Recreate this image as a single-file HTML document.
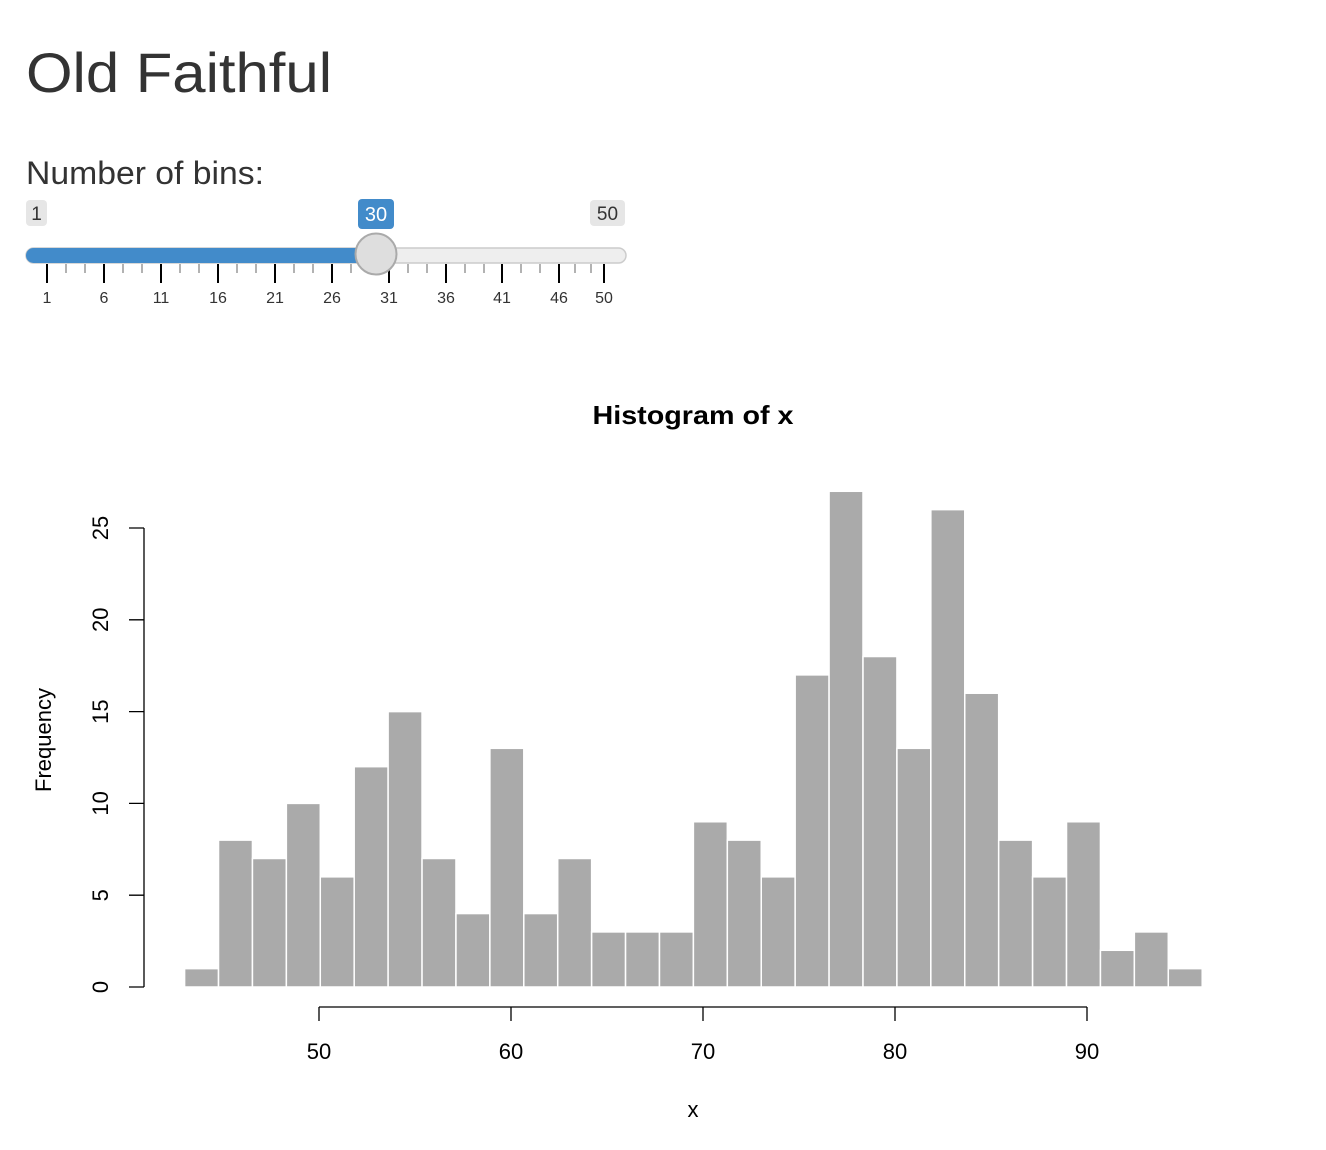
<!DOCTYPE html>
<html><head><meta charset="utf-8"><style>
html,body{margin:0;padding:0;background:#fff;}
svg{display:block;}
</style></head><body>
<svg width="1326" height="1150" viewBox="0 0 1326 1150" xmlns="http://www.w3.org/2000/svg" font-family="Liberation Sans, Arial, sans-serif">
<text x="26" y="92" font-size="56" fill="#333" textLength="306" lengthAdjust="spacingAndGlyphs">Old Faithful</text>
<text x="26" y="184" font-size="32" fill="#333" textLength="238" lengthAdjust="spacingAndGlyphs">Number of bins:</text>
<rect x="26" y="200" width="21" height="26" rx="4" fill="#e6e6e6"/>
<text x="36.5" y="220" font-size="19" fill="#333" text-anchor="middle">1</text>
<rect x="590" y="200" width="35" height="26" rx="4" fill="#e6e6e6"/>
<text x="607.5" y="220" font-size="19" fill="#333" text-anchor="middle">50</text>
<rect x="358" y="199" width="36" height="30" rx="4" fill="#428bca"/>
<text x="376" y="221" font-size="20" fill="#fff" text-anchor="middle">30</text>
<rect x="26" y="248" width="600" height="15" rx="7.5" fill="#eee" stroke="#ccc" stroke-width="1.5"/>
<rect x="26" y="248" width="350" height="15" rx="7.5" fill="#428bca"/>
<g stroke="#000" stroke-width="2">
<line x1="47" y1="264" x2="47" y2="283"/><line x1="104" y1="264" x2="104" y2="283"/><line x1="161" y1="264" x2="161" y2="283"/><line x1="218" y1="264" x2="218" y2="283"/><line x1="275" y1="264" x2="275" y2="283"/><line x1="332" y1="264" x2="332" y2="283"/><line x1="389" y1="264" x2="389" y2="283"/><line x1="446" y1="264" x2="446" y2="283"/><line x1="502" y1="264" x2="502" y2="283"/><line x1="559" y1="264" x2="559" y2="283"/><line x1="604" y1="264" x2="604" y2="283"/>
</g>
<g stroke="#999" stroke-width="1.5">
<line x1="66" y1="264" x2="66" y2="273"/><line x1="85" y1="264" x2="85" y2="273"/>
<line x1="123" y1="264" x2="123" y2="273"/><line x1="142" y1="264" x2="142" y2="273"/>
<line x1="180" y1="264" x2="180" y2="273"/><line x1="199" y1="264" x2="199" y2="273"/>
<line x1="237" y1="264" x2="237" y2="273"/><line x1="256" y1="264" x2="256" y2="273"/>
<line x1="294" y1="264" x2="294" y2="273"/><line x1="313" y1="264" x2="313" y2="273"/>
<line x1="351" y1="264" x2="351" y2="273"/><line x1="370" y1="264" x2="370" y2="273"/>
<line x1="408" y1="264" x2="408" y2="273"/><line x1="427" y1="264" x2="427" y2="273"/>
<line x1="465" y1="264" x2="465" y2="273"/><line x1="484" y1="264" x2="484" y2="273"/>
<line x1="521" y1="264" x2="521" y2="273"/><line x1="540" y1="264" x2="540" y2="273"/>
<line x1="575" y1="264" x2="575" y2="273"/><line x1="591" y1="264" x2="591" y2="273"/>
</g>
<g font-size="16" fill="#333" text-anchor="middle">
<text x="47" y="303">1</text><text x="104" y="303">6</text><text x="161" y="303">11</text><text x="218" y="303">16</text><text x="275" y="303">21</text><text x="332" y="303">26</text><text x="389" y="303">31</text><text x="446" y="303">36</text><text x="502" y="303">41</text><text x="559" y="303">46</text><text x="604" y="303">50</text>
</g>
<circle cx="376" cy="254" r="20.5" fill="#dedede" stroke="#aaa" stroke-width="2"/>
<text x="693" y="424" font-size="26" font-weight="bold" text-anchor="middle" fill="#000" textLength="201" lengthAdjust="spacingAndGlyphs">Histogram of x</text>
<g fill="#aaaaaa" stroke="#fff" stroke-width="1.5">
<rect x="184.6" y="968.64" width="33.92" height="18.36"/>
<rect x="218.52" y="840.12" width="33.92" height="146.88"/>
<rect x="252.44" y="858.48" width="33.92" height="128.52"/>
<rect x="286.36" y="803.4" width="33.92" height="183.6"/>
<rect x="320.28" y="876.84" width="33.92" height="110.16"/>
<rect x="354.2" y="766.68" width="33.92" height="220.32"/>
<rect x="388.12" y="711.6" width="33.92" height="275.4"/>
<rect x="422.04" y="858.48" width="33.92" height="128.52"/>
<rect x="455.96" y="913.56" width="33.92" height="73.44"/>
<rect x="489.88" y="748.32" width="33.92" height="238.68"/>
<rect x="523.8" y="913.56" width="33.92" height="73.44"/>
<rect x="557.72" y="858.48" width="33.92" height="128.52"/>
<rect x="591.64" y="931.92" width="33.92" height="55.08"/>
<rect x="625.56" y="931.92" width="33.92" height="55.08"/>
<rect x="659.48" y="931.92" width="33.92" height="55.08"/>
<rect x="693.4" y="821.76" width="33.92" height="165.24"/>
<rect x="727.32" y="840.12" width="33.92" height="146.88"/>
<rect x="761.24" y="876.84" width="33.92" height="110.16"/>
<rect x="795.16" y="674.88" width="33.92" height="312.12"/>
<rect x="829.08" y="491.28" width="33.92" height="495.72"/>
<rect x="863.0" y="656.52" width="33.92" height="330.48"/>
<rect x="896.92" y="748.32" width="33.92" height="238.68"/>
<rect x="930.84" y="509.64" width="33.92" height="477.36"/>
<rect x="964.76" y="693.24" width="33.92" height="293.76"/>
<rect x="998.68" y="840.12" width="33.92" height="146.88"/>
<rect x="1032.6" y="876.84" width="33.92" height="110.16"/>
<rect x="1066.52" y="821.76" width="33.92" height="165.24"/>
<rect x="1100.44" y="950.28" width="33.92" height="36.72"/>
<rect x="1134.36" y="931.92" width="33.92" height="55.08"/>
<rect x="1168.28" y="968.64" width="33.92" height="18.36"/>
</g>
<g stroke="#000" stroke-width="1.3" fill="none">
<path d="M144 528 V987"/>
<path d="M129 987H144M129 895.2H144M129 803.4H144M129 711.6H144M129 619.8H144M129 528H144"/>
<path d="M319 1007H1087M319 1007V1021M511 1007V1021M703 1007V1021M895 1007V1021M1087 1007V1021"/>
</g>
<g font-size="22" fill="#000" text-anchor="middle">
<text x="319" y="1059">50</text><text x="511" y="1059">60</text><text x="703" y="1059">70</text><text x="895" y="1059">80</text><text x="1087" y="1059">90</text>
<text x="693" y="1117">x</text>
<text transform="translate(108,987) rotate(-90)">0</text>
<text transform="translate(108,895.2) rotate(-90)">5</text>
<text transform="translate(108,803.4) rotate(-90)">10</text>
<text transform="translate(108,711.6) rotate(-90)">15</text>
<text transform="translate(108,619.8) rotate(-90)">20</text>
<text transform="translate(108,528) rotate(-90)">25</text>
<text transform="translate(51,740) rotate(-90)">Frequency</text>
</g>
</svg>
</body></html>
